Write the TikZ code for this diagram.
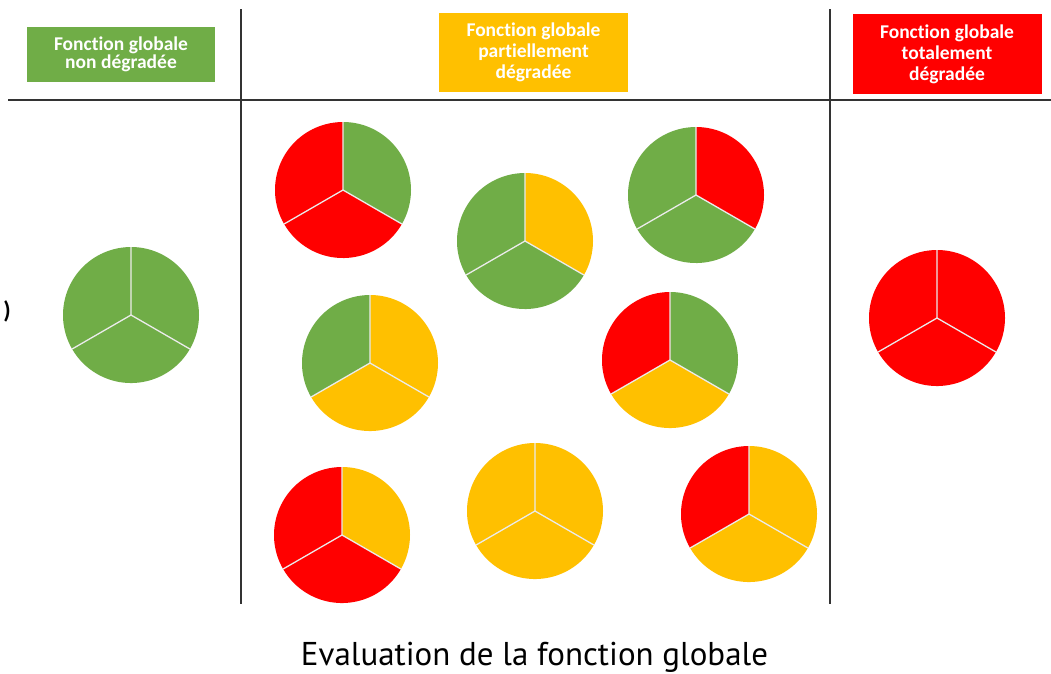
\documentclass[tikz,border=0pt]{standalone}
\usepackage{fontspec}
\setmainfont[Ligatures=NoCommon]{Carlito}
\newfontfamily\capfont{PT Sans}
\definecolor{pgreen}{HTML}{70AD47}
\definecolor{pyellow}{HTML}{FFC000}
\definecolor{pred}{HTML}{FF0000}
\definecolor{rulecol}{HTML}{333333}
\tikzset{
  rulel/.style={draw=rulecol, line width=1.6pt},
  sep/.style={draw=white!92!black, line width=1.3pt},
  headbox/.style={rectangle, inner sep=0pt, align=center, text=white, font=\bfseries\fontsize{19.5}{17.5}\selectfont},
}
\newcommand\piechart[5]{%
  \coordinate (#1) at (#2);
  \fill[#3] (#1) -- ++(90:68) arc[start angle=90, end angle=-30, radius=68] -- cycle;
  \fill[#4] (#1) -- ++(-30:68) arc[start angle=-30, end angle=-150, radius=68] -- cycle;
  \fill[#5] (#1) -- ++(210:68) arc[start angle=210, end angle=90, radius=68] -- cycle;
  \draw[sep] (#1) -- ++(90:68) (#1) -- ++(-30:68) (#1) -- ++(210:68);
}
\begin{document}
\begin{tikzpicture}[x=1pt,y=1pt]
\useasboundingbox (0,0) rectangle (1051,-673);
\fill[white] (0,0) rectangle (1051,-673);
% header boxes
\node[headbox, fill=pgreen, minimum width=188pt, minimum height=55pt] (hgreen) at (121,-54.5) {Fonction globale\\non dégradée};
\node[headbox, fill=pyellow, minimum width=189pt, minimum height=79pt,
      font=\bfseries\fontsize{19.5}{21}\selectfont] (hyellow) at (533.5,-52.5) {Fonction globale\\partiellement\\dégradée};
\node[headbox, fill=pred, minimum width=189pt, minimum height=80pt,
      font=\bfseries\fontsize{19.5}{21}\selectfont] (hred) at (947,-54) {Fonction globale\\totalement\\dégradée};
% rules
\coordinate (hl) at (8,-100);
\coordinate (hr) at (1051,-100);
\coordinate (v1t) at (241,-9);
\coordinate (v1b) at (241,-604);
\coordinate (v2t) at (830,-9);
\coordinate (v2b) at (830,-604);
\draw[rulel] (hl) -- (hr);
\draw[rulel] (v1t) -- (v1b);
\draw[rulel] (v2t) -- (v2b);
% pies
\piechart{p1}{131,-315}{pgreen}{pgreen}{pgreen}
\piechart{p2}{343,-190}{pgreen}{pred}{pred}
\piechart{p3}{525,-241}{pyellow}{pgreen}{pgreen}
\piechart{p4}{696,-195}{pred}{pgreen}{pgreen}
\piechart{p5}{370,-363}{pyellow}{pyellow}{pgreen}
\piechart{p6}{670,-360}{pgreen}{pyellow}{pred}
\piechart{p7}{342,-535}{pyellow}{pred}{pred}
\piechart{p8}{535,-511}{pyellow}{pyellow}{pyellow}
\piechart{p9}{749,-514}{pyellow}{pyellow}{pred}
\piechart{p10}{937,-318}{pred}{pred}{pred}
% stray mark at left edge
\node[inner sep=0pt, font=\bfseries\fontsize{24}{24}\selectfont] (stray) at (7,-311) {)};
% caption
\node[inner sep=0pt, anchor=base] (caption) at (534.5,-665) {\capfont\resizebox{467pt}{!}{Evaluation de la fonction globale}};
\end{tikzpicture}
\end{document}
